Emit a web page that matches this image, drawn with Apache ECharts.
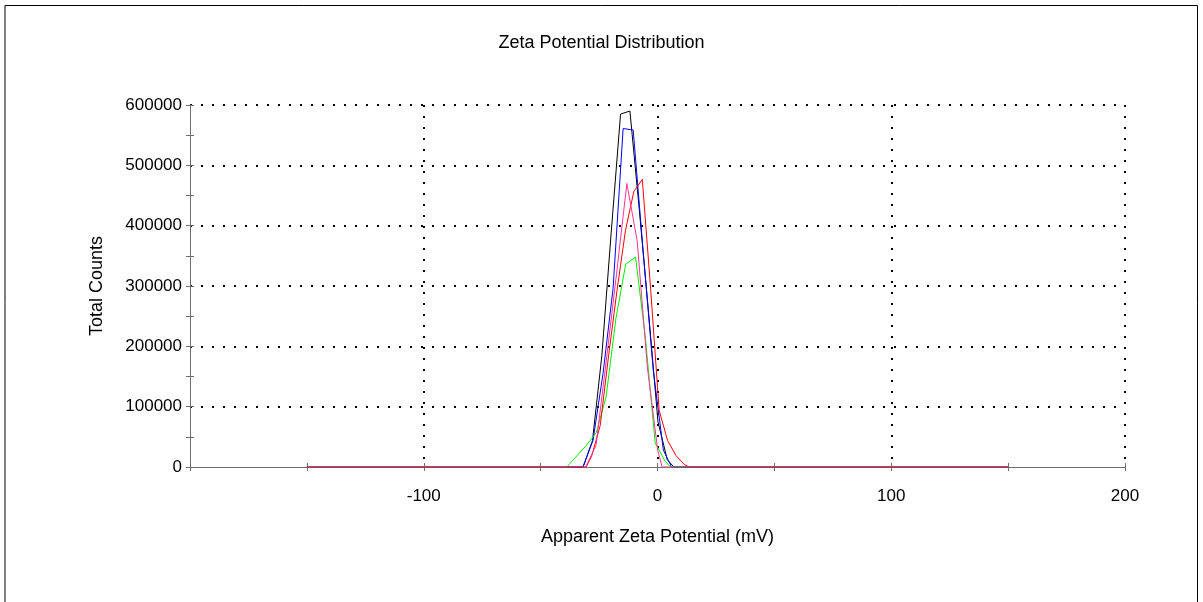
<!DOCTYPE html>
<html>
<head>
<meta charset="utf-8">
<script src="https://cdn.jsdelivr.net/npm/echarts@6/dist/echarts.min.js"></script>
<style>
html,body{margin:0;padding:0;background:#fff;}
#chart{width:1203px;height:602px;}
</style>
</head>
<body>
<div id="chart"></div>
<script>
// ---- data (Apparent Zeta Potential mV, Total Counts) ----
var blackX = [-150, -31.8, -27.8, -23.8, -19.8, -15.8, -11.8, -7.8, -3.8, 0.2, 4.2, 7.0, 150];
var blackY = [0, 0, 44000, 185000, 389000, 585000, 590000, 427000, 255000, 75000, 12000, 0, 0];

var blueX = [-150, -31.9, -27.6, -23.3, -19.0, -14.7, -10.4, -6.1, -1.8, 2.5, 6.0, 150];
var blueY = [0, 0, 44000, 155000, 296000, 561000, 558500, 356000, 160000, 28000, 0, 0];

var greenX = [-150, -38.8, -34.6, -30.4, -26.2, -22.0, -17.8, -13.6, -9.4, -5.2, -1.0, 3.2, 5.5, 150];
var greenY = [0, 0, 18000, 36000, 57000, 116000, 246000, 336000, 348000, 215000, 40000, 10000, 0, 0];

var redX = [-150, -30.5, -28.1, -24.5, -20.9, -17.3, -13.7, -10.1, -6.5, -2.9, 0.7, 4.3, 7.9, 11.5, 13.5, 150];
var redY = [0, 0, 19000, 69000, 185000, 293000, 392000, 457000, 476700, 293000, 94000, 44000, 19000, 4000, 0, 0];

var pinkX = [-150, -30.7, -26.3, -21.9, -17.5, -13.1, -8.7, -4.3, 0.1, 2.0, 150];
var pinkY = [0, 0, 36000, 177000, 321000, 470000, 375000, 164000, 27700, 0, 0];

var xTicks = [-100, 0, 100, 200];
var titleText = 'Zeta Potential Distribution';
var xName = 'Apparent Zeta Potential (mV)';
var yName = 'Total Counts';

function pairs(xs, ys) { return xs.map(function (x, i) { return [x, ys[i]]; }); }

var chart = echarts.init(document.getElementById('chart'), null, {renderer: 'canvas'});
var font = 'Liberation Sans, Arial, sans-serif';
var axisGray = '#6e6e6e';

function mkSeries(name, color, xs, ys, z) {
  return {
    name: name, type: 'line', data: pairs(xs, ys), showSymbol: false, symbol: 'none',
    lineStyle: {color: color, width: 1}, z: z, animation: false, xAxisIndex: 0, yAxisIndex: 0
  };
}

var option = {
  animation: false,
  backgroundColor: '#fff',
  title: {
    text: titleText, left: 'center', top: 29,
    textStyle: {fontFamily: font, fontSize: 18, fontWeight: 'normal', color: '#000'}
  },
  graphic: [
    {type: 'polyline', silent: true, shape: {points: [[5, 602], [5, 5.5], [1197.5, 5.5], [1197.5, 602]]},
     style: {stroke: '#000', lineWidth: 1, fill: null}}
  ],
  grid: {left: 190, right: 78, top: 105, bottom: 135, containLabel: false},
  xAxis: [{
    type: 'value', min: -200, max: 200, interval: 100,
    name: xName, nameLocation: 'middle', nameGap: 61,
    nameTextStyle: {fontFamily: font, fontSize: 18, color: '#000'},
    axisLine: {onZero: false, lineStyle: {color: axisGray, width: 1}},
    axisTick: {show: true, length: 4, lineStyle: {color: axisGray}},
    minorTick: {show: true, splitNumber: 2, length: 4, lineStyle: {color: axisGray}},
    axisLabel: {
      margin: 21, fontFamily: font, fontSize: 17, color: '#000',
      formatter: function (v) { return xTicks.indexOf(v) >= 0 ? String(v) : ''; }
    },
    splitLine: {show: true, showMinLine: false, lineStyle: {color: '#000', type: [2, 9], width: 2}}
  }, {
    type: 'value', min: -200, max: 200, interval: 100, position: 'bottom',
    axisLine: {show: false, onZero: false},
    axisTick: {show: true, inside: true, length: 4, lineStyle: {color: axisGray}},
    minorTick: {show: true, splitNumber: 2, length: 4, lineStyle: {color: axisGray}},
    axisLabel: {show: false}, splitLine: {show: false}
  }],
  yAxis: [{
    type: 'value', min: 0, max: 600000, interval: 100000,
    name: yName, nameLocation: 'middle', nameGap: 84, nameRotate: 90,
    nameTextStyle: {fontFamily: font, fontSize: 18, color: '#000'},
    axisLine: {show: true, onZero: false, lineStyle: {color: axisGray, width: 1}},
    axisTick: {show: true, length: 4, lineStyle: {color: axisGray}},
    minorTick: {show: true, splitNumber: 2, length: 4, lineStyle: {color: axisGray}},
    axisLabel: {margin: 8, fontFamily: font, fontSize: 17, color: '#000',
      formatter: function (v) { return String(v); }},
    splitLine: {show: true, showMinLine: false, lineStyle: {color: '#000', type: [2, 9], width: 2}}
  }, {
    type: 'value', min: 0, max: 600000, interval: 100000, position: 'left',
    axisLine: {show: false, onZero: false},
    axisTick: {show: true, inside: true, length: 4, lineStyle: {color: axisGray}},
    minorTick: {show: true, splitNumber: 2, length: 4, lineStyle: {color: axisGray}},
    axisLabel: {show: false}, splitLine: {show: false}
  }],
  series: [
    mkSeries('Black', '#000000', blackX, blackY, 2),
    mkSeries('Blue', '#0000ff', blueX, blueY, 3),
    mkSeries('Green', '#00ee00', greenX, greenY, 4),
    mkSeries('Red', '#ff0000', redX, redY, 5),
    mkSeries('Pink', '#ff3399', pinkX, pinkY, 6)
  ]
};
chart.setOption(option);
</script>
</body>
</html>
